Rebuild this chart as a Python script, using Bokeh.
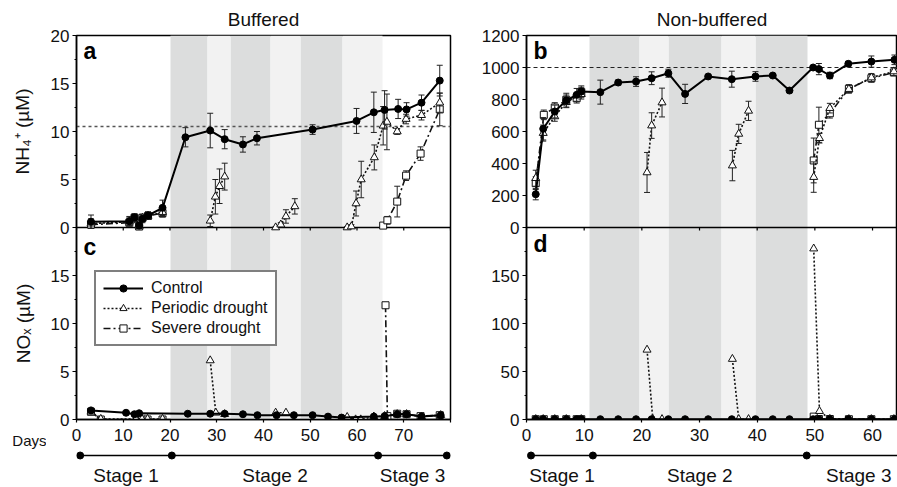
import math
from bokeh.plotting import figure
from bokeh.models import Range1d, FixedTicker, Label, Legend, LegendItem
from bokeh.layouts import row, column
from bokeh.embed import file_html
from bokeh.resources import INLINE
from bokeh.core.properties import value

nan = float("nan")
FONT = "Liberation Sans"

# ---------------- data: Buffered, NH4+ (panel a) ----------------
a_ctrl_day = [3.1, 11.3, 12.4, 13.4, 14.1, 15.3, 18.4, 23.3, 28.6, 31.7, 35.6, 38.6, 50.5, 59.9, 63.6, 65.9, 68.8, 70.6, 73.8, 77.7]
a_ctrl_val = [0.6, 0.65, 1.05, 0.2, 0.9, 1.25, 2.05, 9.4, 10.1, 9.2, 8.65, 9.3, 10.2, 11.1, 12.0, 12.25, 12.35, 12.3, 13.0, 15.3]
a_ctrl_err = [0.7, 0.5, 0.4, 0.3, 0.4, 0.4, 0.8, 1.0, 1.8, 1.0, 0.8, 0.7, 0.5, 1.3, 2.1, 2.0, 1.0, 0.7, 0.8, 1.6]

a_per_day = [3.1, 11.3, 12.4, 13.4, 14.1, 15.3, 18.4, nan, 28.6, 29.7, 30.6, 31.7, nan, 42.6, 43.7, 44.8, 46.7, nan,
             57.9, 58.8, 59.8, 60.9, 63.7, 65.6, 66.4, 68.6, 70.5, 73.8, 77.7]
a_per_val = [0.4, 0.6, 0.9, 0.1, 1.0, 1.2, 1.6, nan, 0.7, 3.2, 4.3, 5.3, nan, 0.0, 0.3, 1.15, 2.2, nan,
             0.0, 0.1, 2.5, 5.0, 7.3, 10.6, 11.0, 10.0, 11.3, 11.7, 13.0]
a_per_err = [0.5, 0.4, 0.4, 0.2, 0.4, 0.3, 0.5, nan, 0.6, 1.8, 1.8, 1.4, nan, 0.1, 0.2, 0.7, 0.8, nan,
             0.1, 0.2, 1.3, 1.9, 1.3, 2.0, 2.9, 0.3, 0.5, 0.5, 1.0]

a_sev_day = [3.1, 11.3, 12.4, 13.4, 14.1, 15.3, 18.4, nan, 65.6, 66.5, 68.6, 70.5, 73.6, 77.7]
a_sev_val = [0.3, 0.5, 1.0, 0.1, 1.0, 1.2, 1.5, nan, 0.2, 0.75, 2.7, 5.4, 7.7, 12.3]
a_sev_err = [0.3, 0.3, 0.3, 0.2, 0.3, 0.3, 0.4, nan, 0.1, 0.4, 1.6, 0.5, 0.7, 1.7]

# ---------------- data: Buffered, NOx (panel c) ----------------
c_ctrl_day = [3.1, 10.6, 12.4, 13.4, 23.8, 28.6, 31.7, 35.6, 38.7, 42.8, 46.5, 50.5, 53.8, 56.7, 63.6, 65.9, 68.6, 70.6, 73.8, 77.9]
c_ctrl_val = [0.95, 0.7, 0.55, 0.65, 0.6, 0.6, 0.6, 0.55, 0.45, 0.45, 0.45, 0.45, 0.3, 0.2, 0.3, 0.35, 0.55, 0.55, 0.3, 0.45]

c_per_day = [3.1, 5.2, 12.7, 14.0, 15.2, 18.4, nan, 28.6, 29.8, 31.7, nan, 42.6, 44.8, nan,
             57.9, 59.7, 60.8, 63.6, 65.9, 68.6, 70.6, 73.8, 77.9]
c_per_val = [0.8, 0.05, 0.05, 0.05, 0.05, 0.05, nan, 6.15, 0.7, 0.55, nan, 0.7, 0.7, nan,
             0.25, 0.0, 0.0, 0.3, 0.35, 0.55, 0.55, 0.3, 0.45]

c_sev_day = [3.1, 5.2, 13.1, 14.0, 15.2, 18.4, nan, 66.1, 66.5, 68.6, 70.6, 73.6, 77.7]
c_sev_val = [0.8, 0.0, 0.0, 0.0, 0.0, 0.0, nan, 11.9, 0.35, 0.6, 0.55, 0.35, 0.45]

# ---------------- data: Non-buffered, NH4+ (panel b) ----------------
b_ctrl_day = [1.6, 2.9, 4.9, 6.9, 8.7, 9.5, 12.8, 15.9, 19.0, 21.7, 24.6, 27.5, 31.5, 35.6, 39.7, 42.7, 45.6,
              49.7, 50.7, 52.6, 55.8, 59.8, 63.8]
b_ctrl_val = [208, 617, 725, 794, 829, 850, 846, 906, 912, 933, 964, 835, 944, 927, 944, 950, 856,
              1000, 990, 950, 1023, 1037, 1048]
b_ctrl_err = [35, 70, 40, 45, 40, 35, 75, 15, 30, 40, 25, 60, 10, 50, 30, 10, 5, 10, 35, 20, 15, 35, 30]

b_per_day = [1.6, 2.9, 4.9, 6.9, 9.5, nan, 20.9, 21.7, 23.5, nan, 35.7, 36.8, 38.5, nan, 49.8, 50.8, 52.6, 55.9, 59.8, 63.7]
b_per_val = [308, 590, 694, 783, 833, nan, 344, 637, 781, nan, 387, 585, 729, nan, 315, 558, 746, 865, 937, 975]
b_per_err = [50, 50, 30, 30, 30, nan, 125, 80, 90, nan, 95, 60, 60, nan, 95, 30, 30, 25, 25, 25]

b_sev_day = [1.6, 3.0, 4.9, 6.9, 8.7, 9.5, nan, 49.8, 50.7, 52.6, 55.9, 59.8, 63.7]
b_sev_val = [277, 704, 750, 798, 808, 846, nan, 419, 642, 714, 867, 933, 969]
b_sev_err = [40, 30, 30, 30, 30, 30, nan, 140, 110, 30, 25, 25, 20]

# ---------------- data: Non-buffered, NOx (panel d) ----------------
d_ctrl_day = [1.6, 2.9, 4.9, 6.9, 8.7, 9.5, 12.8, 15.9, 19.0, 21.7, 24.6, 27.5, 31.5, 35.6, 39.7, 42.7, 45.6,
              49.7, 50.7, 52.6, 55.8, 59.8, 63.8]
d_ctrl_val = [0.3, 0.3, 0.3, 0.3, 0.3, 0.3, 0.3, 0.3, 0.3, 0.3, 0.3, 0.3, 0.3, 0.3, 0.3, 0.3, 0.3,
              0.3, 0.3, 0.3, 0.3, 0.3, 0.3]

d_per_day = [1.6, 2.9, 4.9, 6.9, 9.5, nan, 20.9, 21.9, 23.5, nan, 35.7, 36.8, 38.5, nan, 49.8, 50.8, 52.6, 55.9, 59.8, 63.7]
d_per_val = [0.3, 0.3, 0.3, 0.3, 0.3, nan, 72.6, 0.3, 0.3, nan, 63.0, 0.3, 0.3, nan, 178.0, 8.7, 0.5, 0.3, 0.3, 0.3]

d_sev_day = [1.6, 3.0, 4.9, 6.9, 8.7, 9.5, nan, 49.8, 50.7, 52.6, 55.9, 59.8, 63.7]
d_sev_val = [0.3, 0.3, 0.3, 0.3, 0.3, 0.3, nan, 3.0, 0.5, 0.5, 0.3, 0.3, 0.3]

# ---------------- shading (dry / rewet phases) ----------------
buf_dark_start = [20, 33, 48]
buf_dark_end = [28, 41.6, 56.8]
buf_light_start = [28, 41.6, 56.8]
buf_light_end = [33, 48, 65.4]
non_dark_start = [10.9, 24.6, 39.7]
non_dark_end = [19.6, 33.8, 48.8]
non_light_start = [19.6, 33.8]
non_light_end = [24.6, 39.7]

# ---------------- reference levels ----------------
buf_nh4_ref = [10.5]
non_nh4_ref = [1000]

# ---------------- stages ----------------
buf_stage_bounds = [0, 20, 65, 80]
non_stage_bounds = [0, 11, 49, 67.5]
stage_names = ["Stage 1", "Stage 2", "Stage 3"]

# ---------------- axes / texts ----------------
buf_x_ticks = [0, 10, 20, 30, 40, 50, 60, 70, 80]
buf_x_labels = ["0", "10", "20", "30", "40", "50", "60", "70", ""]
non_x_ticks = [0, 10, 20, 30, 40, 50, 60]
non_x_labels = ["0", "10", "20", "30", "40", "50", "60"]
a_ticks = [0, 5, 10, 15, 20]
a_minor = [2.5, 7.5, 12.5, 17.5]
c_ticks = [0, 5, 10, 15]
c_minor = [2.5, 7.5, 12.5, 17.5]
b_ticks = [0, 200, 400, 600, 800, 1000, 1200]
b_minor = []
d_ticks = [0, 50, 100, 150]
d_minor = [25, 75, 125, 175]
ylabel_top = "NH\u2084\u207A (\u00B5M)"
ylabel_bot = "NO\u2093 (\u00B5M)"
days_label = "Days"

DARK = "#dcdddd"
LIGHT = "#f2f2f2"
TOP = 35          # frame top (px)
FH = 384          # frame height (both panels)
BOT = 30          # bottom border of main figures
MAIN_H = TOP + FH + BOT
STAGE_H = 38
STRIP_W = 46
STAGE_PAD = 0.8   # days of slack so the end dots are not clipped
MID_TICK_PX = 3   # ticks on the boundary between upper and lower panel


def style_axis(ax, size="17px"):
    ax.axis_line_width = 1.5
    ax.axis_line_color = "black"
    ax.major_tick_line_width = 1.2
    ax.minor_tick_line_width = 1
    ax.major_tick_in = 0
    ax.minor_tick_in = 0
    ax.major_label_text_font = FONT
    ax.major_label_text_font_size = size
    ax.major_label_text_color = "#111111"


def build_main(width, ml, mr, x_end, top_max, bot_max, top_ticks, top_minor, bot_ticks, bot_minor,
               x_ticks, x_labels, title_text):
    p = figure(width=width, height=MAIN_H, x_range=Range1d(0, x_end), y_range=Range1d(0, 2 * top_max),
               output_backend="svg", toolbar_location=None, title=title_text,
               min_border_left=ml, min_border_right=mr, min_border_top=TOP, min_border_bottom=BOT)
    p.extra_y_ranges = {"top": Range1d(-top_max, top_max), "bot": Range1d(0, 2 * bot_max)}
    p.title.align = "center"
    p.title.text_font = FONT
    p.title.text_font_size = "19px"
    p.title.text_font_style = "normal"
    p.title.text_color = "#111111"
    p.title.standoff = 11
    p.grid.visible = False
    p.outline_line_color = "black"
    p.outline_line_width = 1.5
    p.background_fill_color = "white"
    p.border_fill_color = "white"
    k = top_max / bot_max
    ticks, overrides = [], {}
    for t in bot_ticks:
        ticks.append(t * k)
        overrides[t * k] = str(t)
    for t in top_ticks:
        ticks.append(top_max + t)
        overrides[top_max + t] = str(t)
    minors = [t * k for t in bot_minor] + [top_max + t for t in top_minor]
    p.yaxis.ticker = FixedTicker(ticks=ticks, minor_ticks=minors)
    p.yaxis.major_label_overrides = overrides
    p.yaxis.major_tick_out = 4
    p.yaxis.minor_tick_out = 2
    p.yaxis.major_label_standoff = 3
    p.xaxis.ticker = FixedTicker(ticks=x_ticks, minor_ticks=[])
    p.xaxis.major_label_overrides = {t: l for t, l in zip(x_ticks, x_labels)}
    p.xaxis.major_tick_out = 3
    p.xaxis.major_label_standoff = 6
    style_axis(p.xaxis[0])
    style_axis(p.yaxis[0])
    return p


def boundary(p, top_max, x_ticks):
    # dividing line between the two panels, with the upper panel's x ticks on it
    p.hspan(y=[top_max], line_color="black", line_width=1.5)
    tick_len = 2 * top_max / FH * MID_TICK_PX
    p.segment(x0=x_ticks, y0=[top_max] * len(x_ticks), x1=x_ticks, y1=[top_max - tick_len] * len(x_ticks),
              line_color="black", line_width=1.2)


def shade(p, ds, de, ls, le):
    p.vstrip(x0=ds, x1=de, fill_color=DARK, line_color=None)
    p.vstrip(x0=ls, x1=le, fill_color=LIGHT, line_color=None)


def errbars(p, d, v, e, rng, color="#222222"):
    xs, lo, hi = [], [], []
    for di, vi, ei in zip(d, v, e):
        if ei == ei and vi == vi and ei > 0:
            xs.append(di)
            lo.append(vi - ei)
            hi.append(vi + ei)
    p.segment(x0=xs, y0=lo, x1=xs, y1=hi, line_color=color, line_width=1, y_range_name=rng)
    p.scatter(x=xs + xs, y=lo + hi, marker="dash", size=6, line_color=color, line_width=1, y_range_name=rng)


def series(p, d, v, e, kind, rng):
    if kind == "ctrl":
        ln = p.line(d, v, line_color="black", line_width=2, y_range_name=rng)
    elif kind == "per":
        ln = p.line(d, v, line_color="#111111", line_width=1.6, line_dash="2 2", y_range_name=rng)
    else:
        ln = p.line(d, v, line_color="#111111", line_width=1.6, line_dash="7 3 2 3", y_range_name=rng)
    if e is not None:
        errbars(p, d, v, e, rng)
    if kind == "ctrl":
        pts = p.scatter(d, v, marker="circle", size=7, fill_color="black", line_color="black", y_range_name=rng)
    elif kind == "per":
        pts = p.scatter(d, v, marker="triangle", size=8, fill_color="white", line_color="#111111",
                        line_width=1, y_range_name=rng)
    else:
        pts = p.scatter(d, v, marker="square", size=7, fill_color="white", line_color="#111111",
                        line_width=1, y_range_name=rng)
    return ln, pts


def letter(p, txt, ytop, rng):
    p.add_layout(Label(x=7, x_units="screen", y=ytop, y_units="data", y_range_name=rng, text=txt,
                       text_font=FONT, text_font_size="23px", text_font_style="bold",
                       text_baseline="top", text_align="left", text_color="black"))


def build_stage(width, ml, mr, x_end, bounds):
    # the frame of this strip lines up with the main frame above it
    s = figure(width=width, height=STAGE_H, x_range=Range1d(-STAGE_PAD, x_end + STAGE_PAD),
               y_range=Range1d(-32, 6),
               x_axis_type=None, y_axis_type=None, output_backend="svg", toolbar_location=None,
               min_border_left=ml, min_border_right=mr, min_border_top=0, min_border_bottom=0)
    s.title.visible = False
    s.grid.visible = False
    s.outline_line_color = None
    s.border_fill_color = "white"
    ys = [0] * len(bounds)
    s.line(bounds, ys, line_color="black", line_width=1.5)
    s.scatter(bounds, ys, marker="circle", size=7, fill_color="black", line_color="black")
    mids = [(a + b) / 2 for a, b in zip(bounds[:-1], bounds[1:])]
    s.text(mids, [-20] * len(mids), text=stage_names, text_align="center", text_baseline="middle",
           text_font=value(FONT), text_font_size="19px", text_color="#111111")
    return s


# ======================= left strip with axis titles =======================
H_ALL = MAIN_H + STAGE_H
strip = figure(width=STRIP_W, height=H_ALL, x_range=Range1d(0, STRIP_W), y_range=Range1d(H_ALL, 0),
               x_axis_type=None, y_axis_type=None, output_backend="svg", toolbar_location=None,
               min_border_left=0, min_border_right=0, min_border_top=0, min_border_bottom=0)
strip.title.visible = False
strip.grid.visible = False
strip.outline_line_color = None
strip.text(x=[22, 23], y=[TOP + FH / 4, TOP + 3 * FH / 4], text=[ylabel_top, ylabel_bot], angle=math.pi / 2,
           text_align="center", text_baseline="middle", text_font=value(FONT), text_font_size="19px",
           text_color="#111111")
strip.text(x=[STRIP_W], y=[TOP + FH + 21], text=[days_label], text_align="right", text_baseline="middle",
           text_font=value(FONT), text_font_size="15px", text_color="#111111")

# ======================= left: Buffered =======================
LW, LML, LMR = 430, 30, 26
left = build_main(LW, LML, LMR, 80, 20, 20, a_ticks, a_minor, c_ticks, c_minor, buf_x_ticks, buf_x_labels,
                  "Buffered")
shade(left, buf_dark_start, buf_dark_end, buf_light_start, buf_light_end)
boundary(left, 20, buf_x_ticks)
left.hspan(y=buf_nh4_ref, y_range_name="top", line_color="#555555", line_width=1.3, line_dash="3 3")

sa = series(left, a_sev_day, a_sev_val, a_sev_err, "sev", "top")
pa = series(left, a_per_day, a_per_val, a_per_err, "per", "top")
ca = series(left, a_ctrl_day, a_ctrl_val, a_ctrl_err, "ctrl", "top")
series(left, c_sev_day, c_sev_val, None, "sev", "bot")
series(left, c_per_day, c_per_val, None, "per", "bot")
series(left, c_ctrl_day, c_ctrl_val, None, "ctrl", "bot")

letter(left, "a", 19.7, "top")
letter(left, "c", 19.3, "bot")

legend = Legend(items=[LegendItem(label="Control", renderers=list(ca)),
                       LegendItem(label="Periodic drought", renderers=list(pa)),
                       LegendItem(label="Severe drought", renderers=list(sa))],
                location=(18, 73))
legend.border_line_color = "black"
legend.border_line_width = 2.5
legend.background_fill_color = "white"
legend.background_fill_alpha = 1
legend.label_text_font = FONT
legend.label_text_font_size = "16px"
legend.label_text_color = "#111111"
legend.glyph_width = 40
legend.glyph_height = 18
legend.label_height = 18
legend.label_standoff = 8
legend.spacing = 2
legend.padding = 7
legend.margin = 0
left.add_layout(legend)

left_stage = build_stage(LW, LML, LMR, 80, buf_stage_bounds)

# ======================= right: Non-buffered =======================
RW, RML, RMR = 421, 50, 0
RX_END = 64.33
right = build_main(RW, RML, RMR, RX_END, 1200, 200, b_ticks, b_minor, d_ticks, d_minor, non_x_ticks, non_x_labels,
                   "Non-buffered")
shade(right, non_dark_start, non_dark_end, non_light_start, non_light_end)
boundary(right, 1200, non_x_ticks)
right.hspan(y=non_nh4_ref, y_range_name="top", line_color="#222222", line_width=1, line_dash="4 3")

series(right, b_sev_day, b_sev_val, b_sev_err, "sev", "top")
series(right, b_per_day, b_per_val, b_per_err, "per", "top")
series(right, b_ctrl_day, b_ctrl_val, b_ctrl_err, "ctrl", "top")
series(right, d_sev_day, d_sev_val, None, "sev", "bot")
series(right, d_per_day, d_per_val, None, "per", "bot")
series(right, d_ctrl_day, d_ctrl_val, None, "ctrl", "bot")

letter(right, "b", 1185, "top")
letter(right, "d", 196, "bot")

right_stage = build_stage(RW, RML, RMR, RX_END, non_stage_bounds)

layout = row(strip, column(left, left_stage), column(right, right_stage))

open("out.html", "w").write(file_html(layout, INLINE))
